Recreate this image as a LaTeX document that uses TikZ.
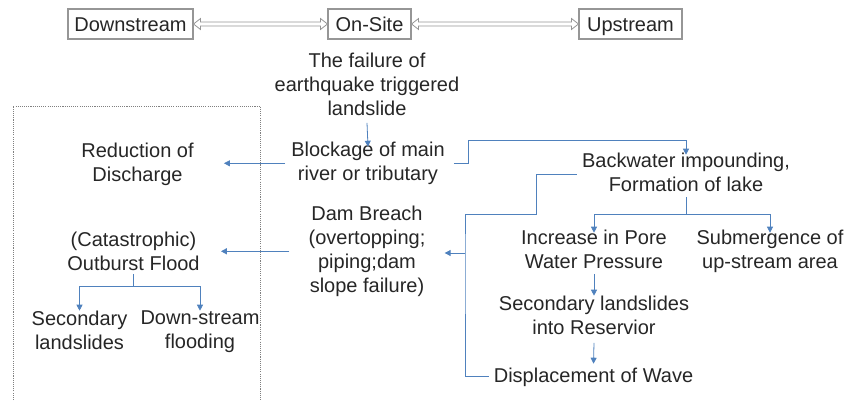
\documentclass[tikz,border=0pt]{standalone}
\usepackage{fontspec}
\setmainfont{Liberation Sans}
\usetikzlibrary{arrows.meta,calc}
\definecolor{txt}{RGB}{38,38,38}
\definecolor{cblue}{RGB}{79,129,189}
\definecolor{bord}{RGB}{150,150,150}
\newcommand\tstrut{\rule{0pt}{13pt}}
\begin{document}
\begin{tikzpicture}[x=0.75pt,y=-0.75pt,
  lbl/.style={anchor=north,inner sep=0pt,align=center,text=txt,
    font=\fontsize{15}{18}\selectfont,execute at begin node=\tstrut},
  topbox/.style={draw=bord,line width=0.8pt,inner sep=0pt,minimum height=22.5pt,
    text height=10.5pt,text depth=0pt,text=txt,font=\fontsize{15}{18}\selectfont},
  conn/.style={draw=cblue,line width=0.6pt},
  arr/.style={conn,-{Triangle[length=4.5pt,width=4.5pt]}},
  hollow/.style={draw=bord,fill=white,line width=0.6pt,line join=miter},
  frame/.style={draw=gray,line width=0.6pt,dash pattern=on 0.8pt off 0.8pt}
]
\useasboundingbox (0,0) rectangle (846,400);

% top row
\node[topbox,minimum width=93.75pt] (ds) at (130.5,24) {Downstream};
\node[topbox,minimum width=62.25pt] (os) at (369.5,24) {On-Site};
\node[topbox,minimum width=77.25pt] (us) at (630.5,24) {Upstream};

\draw[hollow] (ds.east) -- ++(7,-5.5) -- ++(0,3.5) -- ($(os.west)+(-7,-2)$)
  -- ++(0,-3.5) -- (os.west) -- ++(-7,5.5) -- ++(0,-3.5) -- ($(ds.east)+(7,2)$)
  -- ++(0,3.5) -- cycle;
\draw[hollow] (os.east) -- ++(7,-5.5) -- ++(0,3.5) -- ($(us.west)+(-7,-2)$)
  -- ++(0,-3.5) -- (us.west) -- ++(-7,5.5) -- ++(0,-3.5) -- ($(os.east)+(7,2)$)
  -- ++(0,3.5) -- cycle;

% dotted frame
\draw[frame] (13,400) -- (13,106) -- (260,106) -- (260,400);

% text nodes
\node[lbl] (fail) at (367,52.7) {The failure of\\earthquake triggered\\landslide};
\node[lbl] (block) at (368,141.7) {Blockage of main\\river or tributary};
\node[lbl] (red) at (137.5,142.7) {Reduction of\\Discharge};
\node[lbl] (back) at (686,152.7) {Backwater impounding,\\Formation of lake};
\node[lbl] (dam) at (367,205.7) {Dam Breach\\(overtopping;\\piping;dam\\slope failure)};
\node[lbl] (out) at (133.5,231.7) {(Catastrophic)\\Outburst Flood};
\node[lbl] (secl) at (79.5,310.7) {Secondary\\landslides};
\node[lbl] (dsf) at (200,310.7) {Down-stream\\flooding};
\node[lbl] (inc) at (594,229.7) {Increase in Pore\\Water Pressure};
\node[lbl] (sub) at (770,229.7) {Submergence of\\up-stream area};
\node[lbl] (sec2) at (594,295.7) {Secondary landslides\\into Reservior};
\node[lbl] (disp) at (593.5,364.7) {Displacement of Wave};

% connectors
\draw[arr] ($(fail.south)+(0,7)$) -- ($(block.north)+(0,5)$);
\draw[arr] ($(block.west)+(-6,0)$) -- ($(red.east |- block.west)+(30,0)$);
\draw[arr] ($(block.east)+(9,0)$) -- ++(14,0) |- ($(back.north)+(0,-12)$)
  -- ($(back.north)+(0,2)$);

\coordinate (j1) at (536,214);
\coordinate (jv) at (465,253);
\draw[conn] ($(back.west)+(-5,2)$) -| (j1) -| (jv) |- ($(disp.west)+(-5,1)$);
\draw[arr] (jv) -- ($(dam.east |- jv)+(19,0)$);

\draw[arr,line width=1pt] ($(dam.west)+(-19,0)$) -- ($(out.east |- dam.west)+(21,0)$);

\draw[conn] ($(out.south)+(0,3)$) -- ++(0,12) coordinate (o1);
\draw[arr] (o1) -| (secl.north);
\draw[arr] (o1) -| (dsf.north);

\draw[conn] ($(back.south)+(0,5)$) -- (back.south |- j1) coordinate (b1);
\draw[arr] (b1) -| ($(inc.north)+(0,3)$);
\draw[arr] (b1) -| ($(sub.north)+(0,3)$);

\draw[arr] ($(inc.south)+(0,5)$) -- (sec2.north);
\draw[arr] ($(sec2.south)+(0,8)$) -- ($(disp.north)+(0,-1)$);
\end{tikzpicture}
\end{document}
